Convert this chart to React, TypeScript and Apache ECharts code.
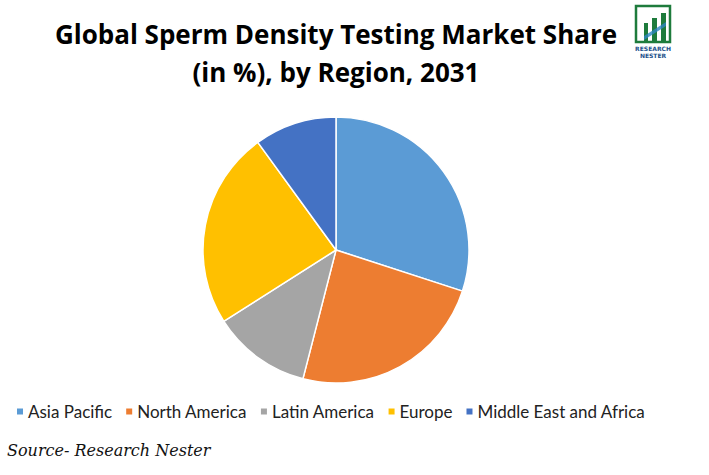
import React, { useEffect, useRef } from "react";
import * as echarts from "echarts";

const regions = ["Asia Pacific", "North America", "Latin America", "Europe", "Middle East and Africa"];
const shares = [30, 24, 12, 24, 10];
const colors = ["#5B9BD5", "#ED7D31", "#A5A5A5", "#FFC000", "#4472C4"];
const titleLines = ["Global Sperm Density Testing Market Share", "(in %), by Region, 2031"];
const sourceText = "Source- Research Nester";

export default function App() {
  const ref = useRef<HTMLDivElement>(null);
  useEffect(() => {
    if (!ref.current) return;
    const chart = echarts.init(ref.current, null, { renderer: "svg" });
    const green = "#1E7B3C";
    chart.setOption({
      animation: false,
      backgroundColor: "#ffffff",
      color: colors,
      title: {
        text: titleLines.join("\n"),
        left: 336,
        textAlign: "center",
        top: 15,
        padding: 0,
        textStyle: {
          fontFamily: "Open Sans",
          fontWeight: "bold",
          fontSize: 26,
          lineHeight: 38,
          color: "#000",
        },
      },
      legend: {
        left: 15,
        top: 403,
        padding: 0,
        itemWidth: 8,
        itemHeight: 8,
        itemGap: 12,
        icon: "rect",
        textStyle: { fontFamily: "Lato", fontSize: 17, color: "#222", padding: [0, 0, 0, -1] },
        data: regions,
      },
      graphic: [
        {
          type: "text",
          left: 7,
          top: 442,
          style: {
            text: sourceText,
            font: "italic 16px 'DejaVu Serif'",
            fill: "#111",
          },
        },
        { type: "rect", shape: { x: 636, y: 6, width: 34, height: 36 }, style: { fill: "none", stroke: green, lineWidth: 2.5 } },
        { type: "rect", shape: { x: 644, y: 23, width: 4, height: 19 }, style: { fill: green } },
        { type: "rect", shape: { x: 652, y: 18, width: 5, height: 24 }, style: { fill: green } },
        { type: "rect", shape: { x: 661, y: 13, width: 5, height: 29 }, style: { fill: green } },
        { type: "polygon", shape: { points: [[644, 36], [666, 22], [666, 26], [644, 40]] }, style: { fill: "#2E86C1", opacity: 0.8 } },
        { type: "text", x: 653, y: 45, style: { text: "RESEARCH", font: "bold 6px 'DejaVu Sans'", fill: "#1B4F8A", align: "center" } },
        { type: "text", x: 653, y: 52, style: { text: "NESTER", font: "bold 6px 'DejaVu Sans'", fill: "#1B4F8A", align: "center" } },
      ],
      series: [
        {
          type: "pie",
          center: [336, 250],
          radius: 133,
          startAngle: 90,
          clockwise: true,
          label: { show: false },
          labelLine: { show: false },
          itemStyle: { borderColor: "#fff", borderWidth: 1.5 },
          emphasis: { disabled: true },
          data: regions.map((r, i) => ({ name: r, value: shares[i] })),
        },
      ],
    });
    return () => chart.dispose();
  }, []);
  return <div ref={ref} style={{ position: "fixed", left: 0, top: 0, width: 709, height: 475 }} />;
}
